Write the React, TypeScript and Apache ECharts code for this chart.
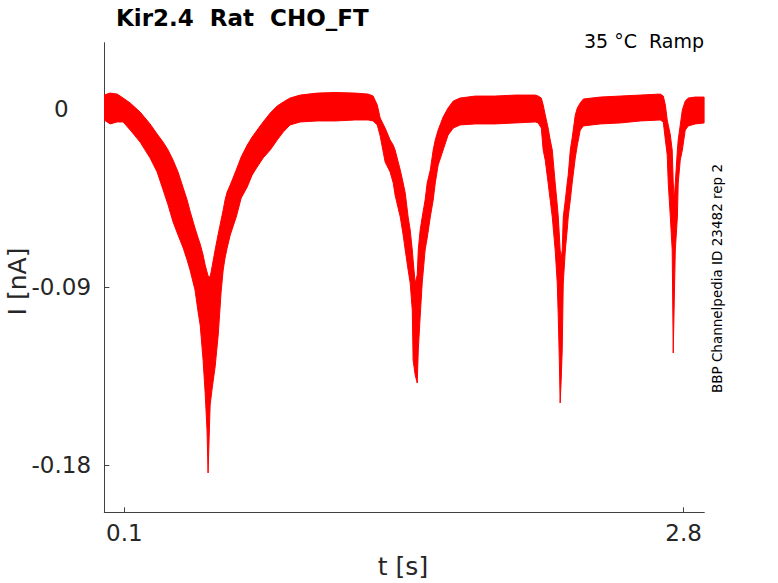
import React, { useEffect, useRef } from 'react';
import * as echarts from 'echarts';

// Time (s) at each sample of the read-off envelope
const TIME_S = [
  0.002, 0.031, 0.065, 0.094, 0.128, 0.176, 0.224, 0.258, 0.287, 0.311,
  0.335, 0.359, 0.384, 0.403, 0.417, 0.441, 0.456, 0.466, 0.48, 0.49,
  0.499, 0.504, 0.514, 0.524, 0.538, 0.553, 0.567, 0.577, 0.586, 0.596,
  0.611, 0.64, 0.664, 0.693, 0.717, 0.741, 0.77, 0.804, 0.838, 0.867,
  0.9, 0.949, 1.031, 1.118, 1.214, 1.277, 1.301, 1.321, 1.335, 1.359,
  1.383, 1.398, 1.407, 1.432, 1.446, 1.456, 1.47, 1.48, 1.49, 1.494,
  1.504, 1.514, 1.519, 1.528, 1.538, 1.552, 1.562, 1.577, 1.591, 1.601,
  1.615, 1.639, 1.663, 1.688, 1.721, 1.794, 1.89, 1.987, 2.084, 2.098,
  2.113, 2.122, 2.132, 2.146, 2.156, 2.166, 2.18, 2.19, 2.195, 2.2,
  2.204, 2.209, 2.214, 2.219, 2.229, 2.238, 2.243, 2.253, 2.262, 2.277,
  2.287, 2.301, 2.316, 2.398, 2.494, 2.591, 2.687, 2.702, 2.712, 2.721,
  2.726, 2.736, 2.745, 2.75, 2.755, 2.76, 2.77, 2.774, 2.784, 2.794,
  2.808, 2.823, 2.856, 2.899,
];

// Upper edge of the noisy current trace (nA)
const UPPER_NA = [
  0.0072, 0.0082, 0.0077, 0.0057, 0.0032, -0.0014, -0.0074, -0.0125, -0.0166, -0.0206,
  -0.0257, -0.0317, -0.0398, -0.0459, -0.0515, -0.0601, -0.0651, -0.0682, -0.0737, -0.0788,
  -0.0823, -0.0843, -0.0849, -0.0793, -0.0712, -0.0631, -0.056, -0.051, -0.0459, -0.0419,
  -0.0383, -0.0307, -0.0241, -0.0181, -0.014, -0.0105, -0.0064, -0.0019, 0.0017, 0.0037,
  0.0057, 0.0072, 0.0082, 0.0085, 0.0082, 0.0077, 0.0067, 0.0022, -0.0044, -0.0095,
  -0.0155, -0.0181, -0.0206, -0.0307, -0.0373, -0.0423, -0.0545, -0.0611, -0.0712, -0.0763,
  -0.0879, -0.0838, -0.0712, -0.0611, -0.0545, -0.0459, -0.0373, -0.0307, -0.0206, -0.0155,
  -0.0105, -0.0039, 0.0007, 0.0042, 0.0057, 0.0067, 0.0067, 0.0072, 0.0072, 0.0067,
  0.0057, 0.0022, -0.0029, -0.0095, -0.0155, -0.0206, -0.0373, -0.0484, -0.0545, -0.0636,
  -0.0712, -0.0752, -0.0712, -0.0545, -0.0459, -0.0373, -0.0332, -0.0206, -0.0145, -0.0029,
  0.0007, 0.0032, 0.0052, 0.0062, 0.0067, 0.0072, 0.0077, 0.0067, 0.0022, -0.0054,
  -0.0079, -0.013, -0.0206, -0.0373, -0.0459, -0.0373, -0.0206, -0.0155, -0.0079, -0.0003,
  0.0042, 0.0057, 0.0062, 0.0062,
];

// Lower edge of the noisy current trace (nA)
const LOWER_NA = [
  -0.0054, -0.0074, -0.0064, -0.0064, -0.0105, -0.0166, -0.0246, -0.0317, -0.0408, -0.0484,
  -0.057, -0.0636, -0.0702, -0.0763, -0.0813, -0.0914, -0.1026, -0.1092, -0.1269, -0.1435,
  -0.1623, -0.184, -0.1496, -0.141, -0.1304, -0.1142, -0.0924, -0.0813, -0.0752, -0.0702,
  -0.0636, -0.0545, -0.0449, -0.0393, -0.0332, -0.0292, -0.0246, -0.0206, -0.0155, -0.0115,
  -0.0079, -0.0064, -0.0059, -0.0059, -0.0054, -0.0054, -0.0059, -0.0079, -0.0135, -0.0267,
  -0.0317, -0.0373, -0.0434, -0.0545, -0.0636, -0.0712, -0.0813, -0.0879, -0.1016, -0.1269,
  -0.1344, -0.1385, -0.1218, -0.1051, -0.0879, -0.0712, -0.0651, -0.0545, -0.0459, -0.0373,
  -0.0282, -0.0206, -0.013, -0.0095, -0.0079, -0.0074, -0.0074, -0.0069, -0.0064, -0.0069,
  -0.0095, -0.0206, -0.0257, -0.0373, -0.0459, -0.0545, -0.0712, -0.0879, -0.1051, -0.1269,
  -0.1486, -0.137, -0.1218, -0.0879, -0.0712, -0.0611, -0.0545, -0.0459, -0.0373, -0.0246,
  -0.0181, -0.0105, -0.0084, -0.0074, -0.0069, -0.0059, -0.0054, -0.0064, -0.0155, -0.0231,
  -0.0373, -0.0545, -0.0712, -0.1233, -0.0965, -0.0712, -0.0545, -0.0373, -0.0257, -0.0206,
  -0.0105, -0.0084, -0.0074, -0.0069,
];

const X_TICKS = [0.1, 2.8];
const Y_TICKS = [-0.18, -0.09, 0];
const X_MIN = 0.003;
const X_MAX = 2.9;
const Y_MIN = -0.2039;
const Y_MAX = 0.0337;

const TITLE = 'Kir2.4  Rat  CHO_FT';
const SUBTITLE = '35 °C  Ramp';
const SIDE_NOTE = 'BBP Channelpedia ID 23482 rep 2';
const X_NAME = 't [s]';
const Y_NAME = 'I [nA]';

const FONT = '"DejaVu Sans", "Noto Sans", sans-serif';
const AXIS_COLOR = '#404040';
const TEXT_COLOR = '#262626';

export default function App() {
  const ref = useRef<HTMLDivElement>(null);

  useEffect(() => {
    if (!ref.current) return;
    const chart = echarts.init(ref.current, null, { renderer: 'svg' });
    chart.setOption({
      animation: false,
      backgroundColor: '#ffffff',
      grid: { left: 104.3, right: 73.7, top: 42.7, bottom: 70.7, containLabel: false },
      xAxis: {
        type: 'value',
        min: X_MIN,
        max: X_MAX,
        axisLine: { show: true, onZero: false, lineStyle: { color: AXIS_COLOR, width: 1 } },
        axisTick: {
          show: true,
          inside: true,
          length: 5,
          customValues: X_TICKS,
          lineStyle: { color: AXIS_COLOR, width: 1 },
        },
        axisLabel: {
          customValues: X_TICKS,
          margin: 9,
          fontFamily: FONT,
          fontSize: 23,
          color: TEXT_COLOR,
          formatter: (v: number) => String(v),
        },
        splitLine: { show: false },
      },
      yAxis: {
        type: 'value',
        min: Y_MIN,
        max: Y_MAX,
        axisLine: { show: true, onZero: false, lineStyle: { color: AXIS_COLOR, width: 1 } },
        axisTick: {
          show: true,
          inside: true,
          length: 5,
          customValues: Y_TICKS,
          lineStyle: { color: AXIS_COLOR, width: 1 },
        },
        axisLabel: {
          customValues: Y_TICKS,
          margin: 43,
          align: 'center',
          fontFamily: FONT,
          fontSize: 23,
          color: TEXT_COLOR,
          formatter: (v: number) => (v === 0 ? '0' : String(v)),
        },
        splitLine: { show: false },
      },
      series: [
        {
          type: 'custom',
          coordinateSystem: 'cartesian2d',
          clip: true,
          silent: true,
          data: [[TIME_S[0], UPPER_NA[0]]],
          renderItem: (_params: any, api: any) => {
            const pts: number[][] = [];
            for (let i = 0; i < TIME_S.length; i++) pts.push(api.coord([TIME_S[i], UPPER_NA[i]]));
            for (let i = TIME_S.length - 1; i >= 0; i--) pts.push(api.coord([TIME_S[i], LOWER_NA[i]]));
            return {
              type: 'polygon',
              shape: { points: pts },
              style: { fill: '#ff0000', stroke: '#ff0000', lineWidth: 1 },
            };
          },
        },
      ],
      graphic: [
        {
          type: 'text',
          x: 116,
          y: 18,
          style: { text: TITLE, font: `bold 23px ${FONT}`, fill: '#000000', align: 'left', verticalAlign: 'middle' },
        },
        {
          type: 'text',
          x: 704,
          y: 41,
          style: { text: SUBTITLE, font: `19px ${FONT}`, fill: '#000000', align: 'right', verticalAlign: 'middle' },
        },
        {
          type: 'text',
          x: 717,
          y: 278.5,
          rotation: Math.PI / 2,
          style: { text: SIDE_NOTE, font: `13.5px ${FONT}`, fill: '#000000', align: 'center', verticalAlign: 'middle' },
        },
        {
          type: 'text',
          x: 403,
          y: 566,
          style: { text: X_NAME, font: `25px ${FONT}`, fill: TEXT_COLOR, align: 'center', verticalAlign: 'middle' },
        },
        {
          type: 'text',
          x: 17,
          y: 281.5,
          rotation: Math.PI / 2,
          style: { text: Y_NAME, font: `25px ${FONT}`, fill: TEXT_COLOR, align: 'center', verticalAlign: 'middle' },
        },
      ],
    });
    return () => chart.dispose();
  }, []);

  return (
    <div
      ref={ref}
      style={{ position: 'fixed', left: 0, top: 0, width: 778, height: 583, background: '#fff' }}
    />
  );
}
